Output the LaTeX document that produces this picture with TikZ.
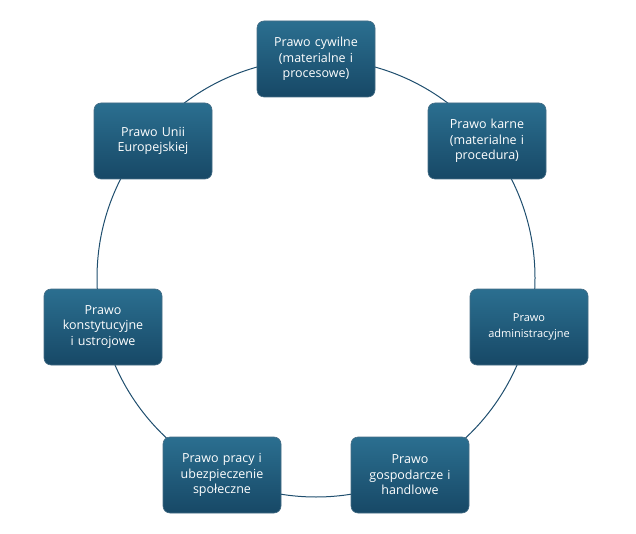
\documentclass[tikz,border=0pt]{standalone}
\usepackage{fontspec}
\setmainfont{Open Sans}
\begin{document}
\begin{tikzpicture}[x=1pt,y=-1pt,
  box/.style={rounded corners=7pt,minimum width=118pt,minimum height=76pt,
    top color=boxtop,bottom color=boxbot,draw=boxbot!80!white,line width=0.6pt,
    text=white,align=center,font=\fontsize{12.5}{15.5}\selectfont,text width=110pt},
  ring/.style={draw=ringc,line width=1pt}]
\definecolor{boxtop}{HTML}{2B6F90}
\definecolor{boxbot}{HTML}{174866}
\definecolor{ringc}{HTML}{1F4E6E}
\useasboundingbox (0,0) rectangle (636,534);
\coordinate (c) at (316,278);
\draw[ring] (c) circle (219pt);
\node[box] (a) at (316,59) {Prawo cywilne\\(materialne i\\procesowe)};
\node[box] (b) at (487,141) {Prawo karne\\(materialne i\\procedura)};
\node[box] (r) at (529,327) {\fontsize{11}{14}\selectfont Prawo\\administracyjne};
\node[box] (br) at (410,475) {Prawo\\gospodarcze i\\handlowe};
\node[box] (bl) at (222,475) {Prawo pracy i\\ubezpieczenie\\społeczne};
\node[box] (l) at (103,327) {Prawo\\konstytucyjne\\i ustrojowe};
\node[box] (tl) at (153,141) {Prawo Unii\\Europejskiej};
\end{tikzpicture}
\end{document}
